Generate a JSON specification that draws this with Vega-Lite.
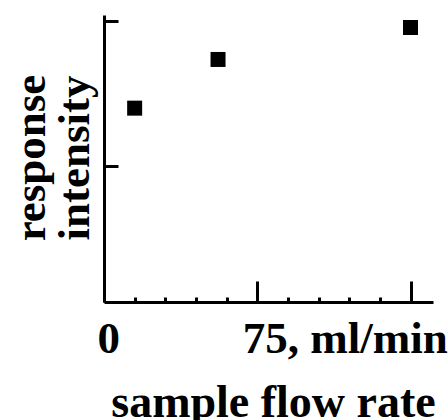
{
  "$schema": "https://vega.github.io/schema/vega-lite/v6.json",
  "width": 329,
  "height": 287,
  "autosize": {"type": "none"},
  "padding": {"left": 104, "top": 15, "right": 15, "bottom": 118},
  "background": "white",
  "config": {
    "view": {"stroke": null},
    "axis": {
      "grid": false,
      "domainColor": "black",
      "domainWidth": 3,
      "tickColor": "black",
      "tickWidth": 3,
      "labelFont": "Liberation Serif",
      "labelFontWeight": "bold",
      "labelColor": "black",
      "titleFont": "Liberation Serif",
      "titleFontWeight": "bold",
      "titleColor": "black"
    }
  },
  "data": {
    "values": [
      {"flow": 15, "response": 1.40},
      {"flow": 55.8, "response": 1.735},
      {"flow": 150, "response": 1.955}
    ]
  },
  "mark": {"type": "point", "shape": "square", "filled": true, "size": 225, "color": "black", "opacity": 1, "strokeWidth": 0},
  "encoding": {
    "x": {
      "field": "flow",
      "type": "quantitative",
      "scale": {"domain": [0, 161], "nice": false, "zero": false},
      "axis": {
        "orient": "bottom",
        "values": [0, 15, 30, 45, 60, 75, 90, 105, 120, 135, 150],
        "tickSize": {"condition": {"test": "datum.value % 75 == 0", "value": -21}, "value": -5},
        "labelExpr": "datum.value == 0 ? '0' : datum.value == 75 ? '75, ml/min' : ''",
        "labelAlign": "left",
        "labelOffset": {"condition": {"test": "datum.value == 0", "value": -7}, "value": -15},
        "labelBaseline": "alphabetic",
        "labelPadding": 71,
        "labelFontSize": 45,
        "labelLimit": 0,
        "labelOverlap": false,
        "labelBound": false,
        "labelFlush": false,
        "title": "sample flow rate",
        "titleFontSize": 46,
        "titleBaseline": "alphabetic",
        "titleAlign": "center",
        "titleX": 169,
        "titleY": 114
      }
    },
    "y": {
      "field": "response",
      "type": "quantitative",
      "scale": {"domain": [0.066, 2.041], "nice": false, "zero": false},
      "axis": {
        "orient": "left",
        "values": [1, 2],
        "tickSize": -14,
        "labels": false,
        "title": ["response", "intensity"],
        "titleFontSize": 45,
        "titleLineHeight": 44,
        "titleAngle": -90,
        "titleBaseline": "alphabetic",
        "titleAlign": "center",
        "titleX": -60,
        "titleY": 142.5
      }
    }
  }
}
